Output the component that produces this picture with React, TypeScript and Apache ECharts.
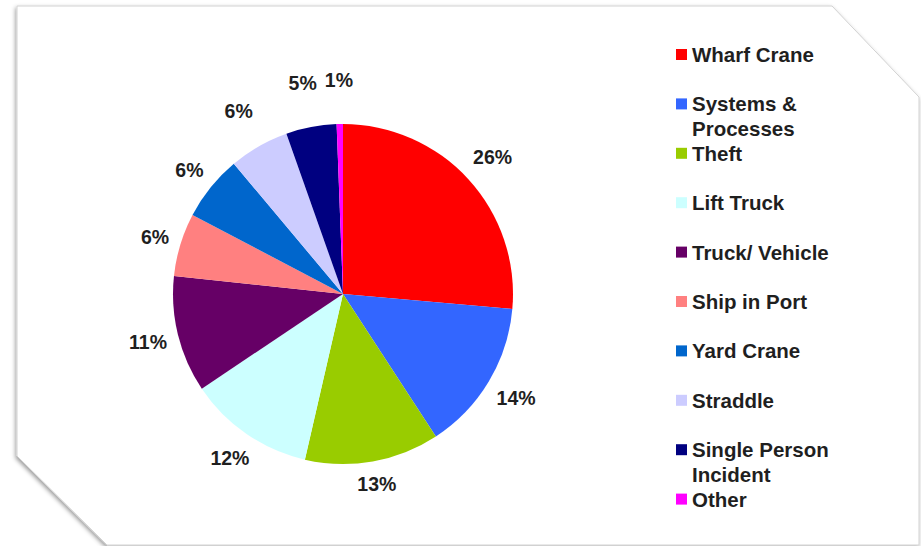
import React, { useEffect, useRef } from "react";
import * as echarts from "echarts";

const categories = [
  "Wharf Crane",
  "Systems & Processes",
  "Theft",
  "Lift Truck",
  "Truck/ Vehicle",
  "Ship in Port",
  "Yard Crane",
  "Straddle",
  "Single Person Incident",
  "Other",
];
const legendText = [
  "Wharf Crane",
  "Systems &\nProcesses",
  "Theft",
  "Lift Truck",
  "Truck/ Vehicle",
  "Ship in Port",
  "Yard Crane",
  "Straddle",
  "Single Person\nIncident",
  "Other",
];
const values = [26.4, 14.4, 12.8, 12.0, 11.1, 6.0, 6.2, 5.7, 4.8, 0.6];
const colors = [
  "#FF0000",
  "#3366FF",
  "#99CC00",
  "#CCFFFF",
  "#660066",
  "#FF8080",
  "#0066CC",
  "#CCCCFF",
  "#000080",
  "#FF00FF",
];

const CX = 343;
const CY = 294;
const R = 170;
const FONT = "'Liberation Sans', Arial, sans-serif";
const TEXT_COLOR = "#1f1f1f";

export default function App() {
  const ref = useRef<HTMLDivElement>(null);
  useEffect(() => {
    if (!ref.current) return;
    const chart = echarts.init(ref.current, null, { renderer: "svg" });
    const total = values.reduce((a, b) => a + b, 0);
    const LH = 25;
    const legends = categories.map((name, i) => {
      const twoLine = legendText[i].includes("\n");
      const c = 54.5 + 49.4 * i;
      return {
        data: [name],
        orient: "vertical",
        left: 676,
        top: c - (twoLine ? LH * 1.5 : LH / 2),
        padding: 0,
        icon: "rect",
        itemWidth: 11,
        itemHeight: 11,
        selectedMode: false,
        formatter: () => (twoLine ? "\n" + legendText[i] : legendText[i]),
        textStyle: {
          fontFamily: FONT,
          fontWeight: "bold",
          fontSize: 20.5,
          color: TEXT_COLOR,
          lineHeight: LH,
        },
      };
    });

    chart.setOption({
      animation: false,
      backgroundColor: "#ffffff",
      graphic: [
        {
          type: "polygon",
          z: -10,
          shape: {
            points: [
              [17, 6],
              [832, 6],
              [919, 97],
              [919, 545],
              [107, 545],
              [17, 456],
            ],
          },
          style: {
            fill: "#ffffff",
            stroke: "#d2d2d2",
            lineWidth: 1,
            shadowBlur: 4,
            shadowColor: "rgba(0,0,0,0.4)",
            shadowOffsetX: -1,
            shadowOffsetY: 2,
          },
        },
      ],
      legend: legends,
      series: [
        {
          type: "pie",
          center: [CX, CY],
          radius: R,
          startAngle: 90,
          clockwise: true,
          avoidLabelOverlap: false,
          itemStyle: { borderWidth: 0 },
          emphasis: { disabled: true },
          label: {
            show: true,
            position: "outside",
            fontFamily: FONT,
            fontWeight: "bold",
            fontSize: 19.5,
            color: TEXT_COLOR,
            formatter: (p: any) => Math.round(p.percent) + "%",
          },
          labelLine: { show: false, length: 5, length2: 0 },
          labelLayout: (p: any) => {
            const i = p.dataIndex;
            let before = 0;
            for (let j = 0; j < i; j++) before += values[j];
            const mid = (before + values[i] / 2) / total;
            const theta = ((90 - mid * 360) * Math.PI) / 180;
            const c = Math.cos(theta);
            const s = Math.sin(theta);
            const w = p.labelRect.width;
            const h = p.labelRect.height;
            const extra = 24 * Math.max(0, (s - 0.65) / 0.35);
            const d = 180 + (Math.abs(c) * w) / 2 + (Math.abs(s) * h) / 2 + extra;
            return {
              x: CX + d * c,
              y: CY - d * s,
              align: "center",
              verticalAlign: "middle",
            };
          },
          data: categories.map((name, i) => ({
            name,
            value: values[i],
            itemStyle: { color: colors[i] },
          })),
        },
      ],
    });
    return () => chart.dispose();
  }, []);
  return (
    <div
      ref={ref}
      style={{ position: "absolute", left: 0, top: 0, width: 921, height: 546 }}
    />
  );
}
